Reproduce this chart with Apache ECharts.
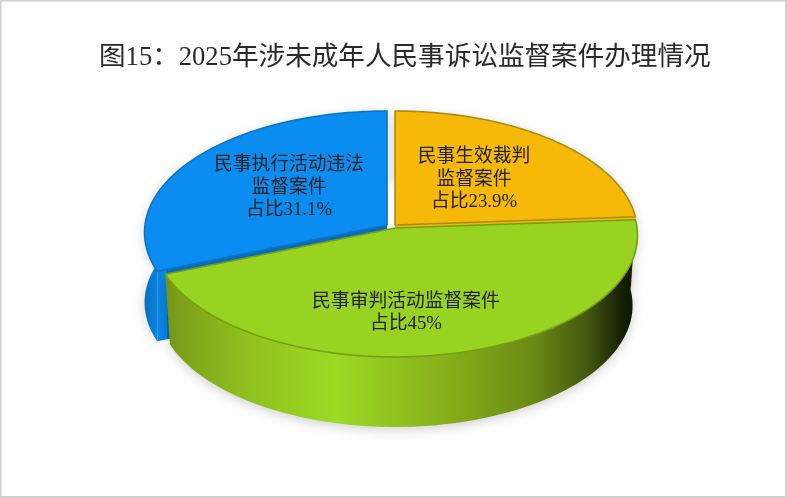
<!DOCTYPE html>
<html><head><meta charset="utf-8">
<style>html,body{margin:0;padding:0;background:#fff}#c{width:787px;height:498px;filter:blur(0.4px)}</style>
<script src="https://cdn.jsdelivr.net/npm/echarts@6/dist/echarts.min.js"></script>
</head><body><div id="c"></div>
<script>
const titleText = '图15：2025年涉未成年人民事诉讼监督案件办理情况';
const categories = ['民事生效裁判\n监督案件', '民事审判活动监督案件', '民事执行活动违法\n监督案件'];
const values = [23.9, 45, 31.1];

// appearance, in source order of the categories
const apexes = [[395, 225], [395, 228], [387, 225]];
const labelAt = [[474, 180], [406, 313], [289, 188]];
const paintOrder = [2, 0, 1];
const wallTaper = [0.982, 0.98, 1];
const hasRadialWall = [true, false, true];
const topFill = ['#f6b908', '#98d322', '#0b8cf0'];
const topEdge = ['#a98c12', '#74a015', '#0b74c4'];
const sideStops = [
  [[0, '#f4b606'], [1, '#f4b606']],
  [[0, '#5f7d12'], [0.07, '#7ba019'], [0.2, '#8fbf1e'], [0.39, '#9cda24'], [0.62, '#86ae1a'], [0.79, '#6b8a14'], [0.9, '#44580e'], [0.975, '#151d04'], [1, '#101600']],
  [[0, '#0a6eb8'], [0.012, '#0a78cc'], [0.03, '#0a84e2'], [1, '#0a84e2']]
];
const radialStops = [
  [[0, '#f4b606'], [1, '#f4b606']],
  [[0, '#6a8a14'], [1, '#6a8a14']],
  [[0, '#0a84e2'], [0.046, '#0a84e2'], [0.047, '#0a6cb8'], [1, '#0a6cb8']]
];
const R = 242, K = 121, P = 0.0617, DROP = 70;
const total = values.reduce((a, b) => a + b, 0);
const rad = v => v / total * Math.PI * 2;
const starts = values.map((_, i) => values.slice(0, i).reduce((a, b) => a + rad(b), 0));

function project(theta, apex, drop, taper) {
  const u = Math.sin(theta), v = Math.cos(theta), s = 1 / (1 + P * v);
  return [apex[0] + R * taper * u * s, apex[1] - K * v * s + drop];
}
function arc(i, drop, taper) {
  const out = [], a = starts[i], b = a + rad(values[i]), n = 90;
  for (let k = 0; k <= n; k++) out.push(project(a + (b - a) * k / n, apexes[i], drop, taper));
  return out;
}
const horiz = stops => new echarts.graphic.LinearGradient(144, 0, 636, 0,
  stops.map(s => ({offset: s[0], color: s[1]})), true);

function renderItem(params, api) {
  const i = api.value(0);
  const base = (paintOrder.indexOf(i) + 1) * 10;
  const apex = apexes[i];
  const topArc = arc(i, 0, 1), botArc = arc(i, DROP, wallTaper[i]);
  const wall = topArc.concat(botArc.slice().reverse());
  const apexLow = [apex[0], apex[1] + DROP];
  const kids = [];
  kids.push({type: 'polygon', z2: base, shape: {points: wall},
    style: {fill: horiz(sideStops[i]), shadowBlur: 12, shadowColor: 'rgba(0,0,0,0.18)', shadowOffsetY: 3}});
  if (hasRadialWall[i]) {
    [[topArc[0], botArc[0]], [topArc[90], botArc[90]]].forEach(e => {
      kids.push({type: 'polygon', z2: base + 1, shape: {points: [apex, e[0], e[1], apexLow]},
        style: {fill: horiz(radialStops[i])}});
    });
  }
  kids.push({type: 'polygon', z2: base + 2, shape: {points: [apex].concat(topArc)},
    style: {fill: topFill[i], stroke: topEdge[i], lineWidth: 1.6, lineJoin: 'round'}});
  kids.push({type: 'text', z2: 100, style: {
    x: labelAt[i][0], y: labelAt[i][1],
    text: categories[i] + '\n占比' + values[i] + '%',
    align: 'center', verticalAlign: 'middle', lineHeight: 22.5,
    font: '18.8px "Liberation Serif","Noto Sans CJK SC"', fill: '#222'
  }});
  return {type: 'group', children: kids};
}

const chart = echarts.init(document.getElementById('c'), null, {renderer: 'canvas'});
chart.setOption({
  animation: false,
  backgroundColor: '#fff',
  title: {text: titleText, left: 94, top: 40,
    textStyle: {fontFamily: '"Liberation Serif","Noto Sans CJK SC"', fontSize: 26.6, fontWeight: 'normal', color: '#2a2a2a'}},
  series: [{type: 'custom', coordinateSystem: 'none', renderItem,
    data: values.map((v, i) => [i, v]), silent: true}],
  graphic: [{type: 'rect', z: 1000, silent: true, shape: {x: 0.5, y: 0.5, width: 785.5, height: 496.5},
    style: {fill: 'none', stroke: '#cfcfcf', lineWidth: 2}}]
});
</script></body></html>
